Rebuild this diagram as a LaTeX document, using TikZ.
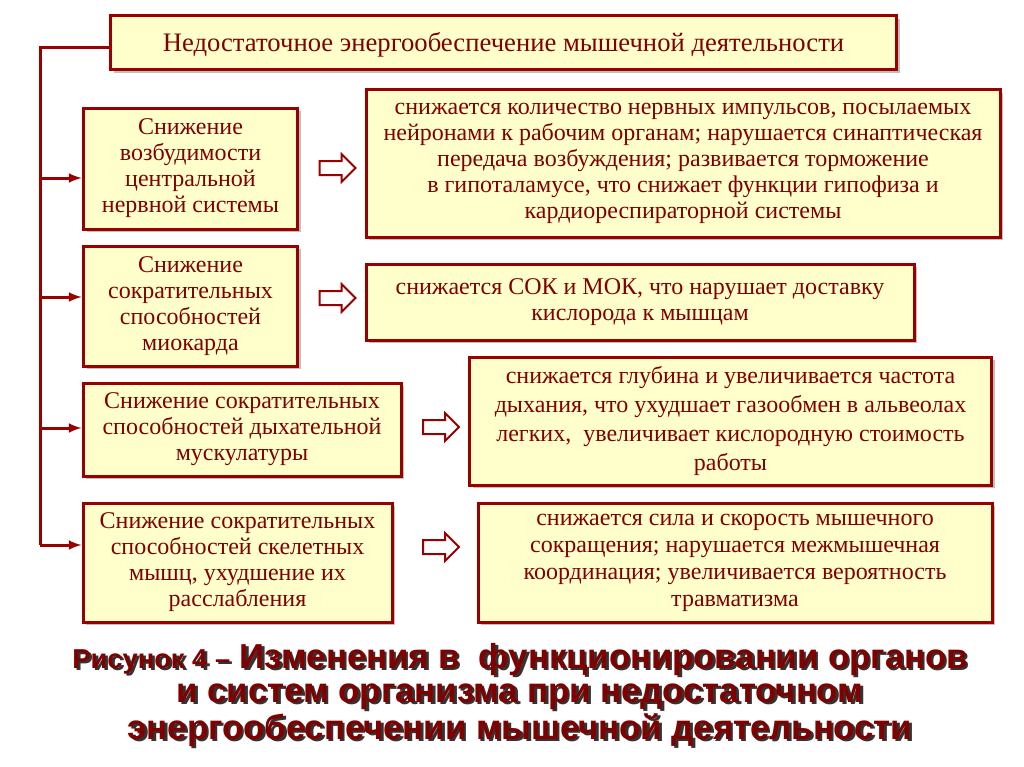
\documentclass[tikz,border=0pt]{standalone}
\usepackage{fontspec}
\setmainfont{Liberation Serif}
\newfontfamily\capfont{Liberation Sans}
\usetikzlibrary{shapes.arrows,shadows}
\definecolor{frame}{HTML}{990000}
\definecolor{ink}{HTML}{800000}
\definecolor{pale}{HTML}{FFFFCC}
% caption line with a dark shadow behind it
\newcommand{\shd}[1]{\leavevmode\rlap{\kern1.9pt\raisebox{-1.9pt}{\color{black!80}#1}}#1}
\tikzset{
  box/.style={draw=frame, line width=2.25pt, fill=pale, text=ink, align=center,
    inner sep=0pt, font=\fontsize{18}{19.5}\selectfont,
    execute at begin node={\rule{0pt}{17pt}},
    drop shadow={shadow xshift=2.5pt, shadow yshift=-2.5pt, opacity=.25, fill=black}},
  hollow/.style={single arrow, draw=frame, line width=1.5pt, fill=white,
    minimum height=27pt, inner sep=4.5pt, single arrow head extend=5.25pt},
  caption/.style={font=\capfont\bfseries\fontsize{26}{25.5}\selectfont, align=center, text=ink}
}
\begin{document}
\begin{tikzpicture}[>=latex, x=0.75pt, y=-0.75pt]
\useasboundingbox[fill=white] (0,0) rectangle (1024,767);

\node[box, minimum width=590pt, minimum height=40.5pt, font=\fontsize{20}{22}\selectfont,
  execute at begin node={}] (top) at (503.5,43)
  {Недостаточное энергообеспечение мышечной деятельности};

\node[box, minimum width=161pt, minimum height=90.75pt] (l1) at (190.5,168.5)
  {Снижение\\ возбудимости\\ центральной\\ нервной системы};
\node[box, minimum width=475.5pt, minimum height=110.25pt] (r1) at (683,163.5)
  {снижается количество нервных импульсов, посылаемых\\ нейронами к рабочим органам; нарушается синаптическая\\
   передача возбуждения; развивается торможение\\ в гипоталамусе, что снижает функции гипофиза и\\ кардиореспираторной системы};

\node[box, minimum width=161pt, minimum height=90pt] (l2) at (190.5,306)
  {Снижение\\ сократительных\\ способностей\\ миокарда};
\node[box, minimum width=411pt, minimum height=57pt] (r2) at (640,302)
  {снижается СОК и МОК, что нарушает доставку\\ кислорода к мышцам};

\node[box, minimum width=238.5pt, minimum height=69.75pt] (l3) at (242,429.5)
  {Снижение сократительных\\ способностей дыхательной\\ мускулатуры};
\node[box, minimum width=392pt, minimum height=96pt, font=\fontsize{18}{21.75}\selectfont] (r3) at (730.5,421)
  {снижается глубина и увеличивается частота\\ дыхания, что ухудшает газообмен в альвеолах\\
   легких,\ \ увеличивает кислородную стоимость\\ работы};

\node[box, minimum width=231.75pt, minimum height=89.25pt] (l4) at (237.5,562.5)
  {Снижение сократительных\\ способностей скелетных\\ мышц, ухудшение их\\ расслабления};
\node[box, minimum width=385.5pt, minimum height=89.25pt, font=\fontsize{18}{20.25}\selectfont] (r4) at (735,562.5)
  {снижается сила и скорость мышечного\\ сокращения; нарушается межмышечная\\
   координация; увеличивается вероятность\\ травматизма};

% hollow arrows between the columns
\node[hollow] (a1) at (334,168) {};
\node[hollow] (a2) at (334,298) {};
\node[hollow] (a3) at (437.5,427) {};
\node[hollow] (a4) at (437.5,547) {};

% trunk on the left
\coordinate (trunk) at (40,48);
\coordinate (trunkend) at (40,545);
\draw[frame, line width=2.25pt] (top.west |- trunk) -- (trunk) -- (trunkend);
\foreach \n/\y in {l1/178, l2/297, l3/428, l4/545}
{
    \draw[->, frame, line width=2.25pt] (trunk |- 0,\y) -- (\n.west |- 0,\y);
}

\node[caption] (cap) at (520,696)
  {\shd{{\fontsize{20.5}{25}\selectfont Рисунок 4 –} Изменения в\ \ функционировании органов}\\
   \shd{и систем организма при недостаточном}\\ \shd{энергообеспечении мышечной деятельности}};
\end{tikzpicture}
\end{document}
